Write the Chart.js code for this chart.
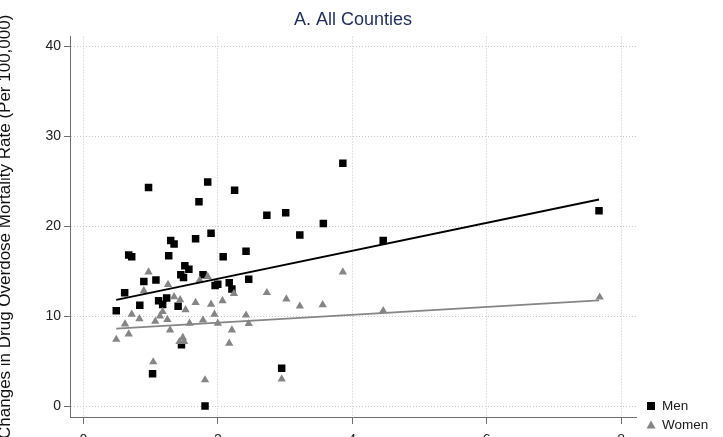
<!DOCTYPE html>
<html>
<head>
<meta charset="utf-8">
<script src="https://cdn.jsdelivr.net/npm/chart.js@4.4.0/dist/chart.umd.min.js"></script>
<style>
  html, body { margin: 0; padding: 0; background: #fff; }
  #wrap { width: 723px; height: 437px; overflow: hidden; position: relative; }
  #chart { position: absolute; left: 0; top: 0; }
</style>
</head>
<body>
<div id="wrap"><canvas id="chart" width="723" height="457"></canvas></div>
<script>
// values
const menX = [0.97, 1.85, 2.25, 1.72, 2.73, 1.90, 1.30, 1.35, 1.67, 0.675, 0.72, 1.27, 2.08, 2.42,
  1.51, 1.57, 0.90, 1.08, 1.45, 1.49, 1.78, 1.96, 2.00, 2.17, 2.46, 2.21, 0.615, 0.84, 0.49,
  1.12, 1.24, 1.18, 1.41, 1.46, 1.03, 1.81, 2.95, 3.86, 3.01, 3.57, 3.22, 4.46, 7.67];
const menY = [24.3, 24.9, 24.0, 22.7, 21.2, 19.2, 18.4, 18.0, 18.6, 16.8, 16.6, 16.7, 16.6, 17.2,
  15.6, 15.2, 13.85, 14.0, 14.6, 14.3, 14.6, 13.4, 13.55, 13.7, 14.1, 13.0, 12.6, 11.2, 10.6,
  11.7, 12.0, 11.3, 11.1, 6.8, 3.6, 0.0, 4.2, 27.0, 21.5, 20.3, 19.0, 18.4, 21.7];

const womenX = [0.97, 1.26, 1.73, 1.85, 0.90, 1.35, 1.44, 1.67, 1.90, 2.07, 2.24, 2.73, 1.52, 0.72,
  0.835, 1.18, 1.14, 1.07, 1.25, 0.62, 1.95, 2.42, 2.46, 2.00, 1.78, 1.58, 1.29, 2.21, 0.675,
  0.49, 1.48, 1.43, 1.50, 2.17, 1.04, 1.81, 2.95, 3.86, 3.02, 3.22, 3.56, 4.46, 7.68];
const womenY = [14.9, 13.5, 14.0, 14.4, 12.8, 12.15, 11.8, 11.5, 11.3, 11.7, 12.5, 12.6, 10.7, 10.2,
  9.7, 10.5, 10.0, 9.4, 9.6, 9.1, 10.2, 10.1, 9.15, 9.2, 9.55, 9.2, 8.45, 8.45, 8.0,
  7.4, 7.6, 7.15, 7.15, 6.97, 4.9, 2.9, 3.0, 14.9, 11.9, 11.1, 11.25, 10.6, 12.1];

// fitted lines (end points)
const menFitX = [0.49, 7.67];
const menFitY = [11.8, 22.96];
const womenFitX = [0.49, 7.67];
const womenFitY = [8.6, 11.75];

const seriesNames = ['Men', 'Women'];

const FONT = '"Liberation Sans", Arial, Helvetica, sans-serif';
const GREY = '#858585';

const toPts = (xs, ys) => xs.map((x, i) => ({ x: x, y: ys[i] }));

// legend sits outside the plot region, bottom right
const sideLegend = {
  id: 'sideLegend',
  afterDraw(chart) {
    const ctx = chart.ctx;
    ctx.save();
    ctx.font = '13.5px ' + FONT;
    ctx.textBaseline = 'middle';
    ctx.fillStyle = '#000';
    ctx.fillRect(647, 402, 8, 8);
    ctx.fillStyle = '#1a1a1a';
    ctx.fillText(seriesNames[0], 662, 406.5);
    ctx.fillStyle = GREY;
    ctx.beginPath();
    ctx.moveTo(651, 420.5);
    ctx.lineTo(655.5, 428.5);
    ctx.lineTo(646.5, 428.5);
    ctx.closePath();
    ctx.fill();
    ctx.fillStyle = '#1a1a1a';
    ctx.fillText(seriesNames[1], 662, 425);
    ctx.restore();
  }
};

new Chart(document.getElementById('chart'), {
  type: 'scatter',
  data: {
    datasets: [
      { type: 'line', label: 'Men fit', data: toPts(menFitX, menFitY), borderColor: '#000',
        borderWidth: 1.8, pointRadius: 0, fill: false },
      { type: 'line', label: 'Women fit', data: toPts(womenFitX, womenFitY), borderColor: GREY,
        borderWidth: 1.6, pointRadius: 0, fill: false },
      { label: seriesNames[1], data: toPts(womenX, womenY), pointStyle: 'triangle',
        pointRadius: 4.8, backgroundColor: GREY, borderWidth: 0 },
      { label: seriesNames[0], data: toPts(menX, menY), pointStyle: 'rect',
        pointRadius: 5.3, backgroundColor: '#000', borderWidth: 0 }
    ]
  },
  options: {
    responsive: false,
    animation: false,
    devicePixelRatio: 1,
    layout: { padding: { left: 0, right: 87, top: 0, bottom: 0 } },
    plugins: {
      legend: { display: false },
      tooltip: { enabled: false },
      title: {
        display: true,
        text: 'A. All Counties',
        fullSize: false,
        color: '#1e2d5c',
        font: { family: FONT, size: 18, weight: 'normal' },
        padding: { top: 9, bottom: 6 }
      }
    },
    scales: {
      x: {
        type: 'linear',
        min: -0.198,
        max: 8.22,
        afterFit: (s) => { s.height = 40; },
        ticks: { stepSize: 2, includeBounds: false, color: '#222', padding: 8,
          font: { family: FONT, size: 14 } },
        grid: { color: '#c8c8c8', lineWidth: 1, tickColor: '#6e6e6e', tickLength: 7 },
        border: { display: true, color: '#6e6e6e', width: 1, dash: [1, 2] }
      },
      y: {
        min: -1.22,
        max: 41.07,
        afterFit: (s) => { s.width = 70; },
        ticks: { stepSize: 10, includeBounds: false, color: '#222', padding: 3,
          font: { family: FONT, size: 14 } },
        grid: { color: '#c8c8c8', lineWidth: 1, tickColor: '#6e6e6e', tickLength: 6 },
        border: { display: true, color: '#6e6e6e', width: 1, dash: [1, 2] },
        title: {
          display: true,
          text: 'Changes in Drug Overdose Mortality Rate (Per 100,000)',
          color: '#111',
          font: { family: FONT, size: 17, lineHeight: 1 },
          padding: { top: -3, bottom: 0 }
        }
      }
    }
  },
  plugins: [sideLegend]
});
</script>
</body>
</html>
